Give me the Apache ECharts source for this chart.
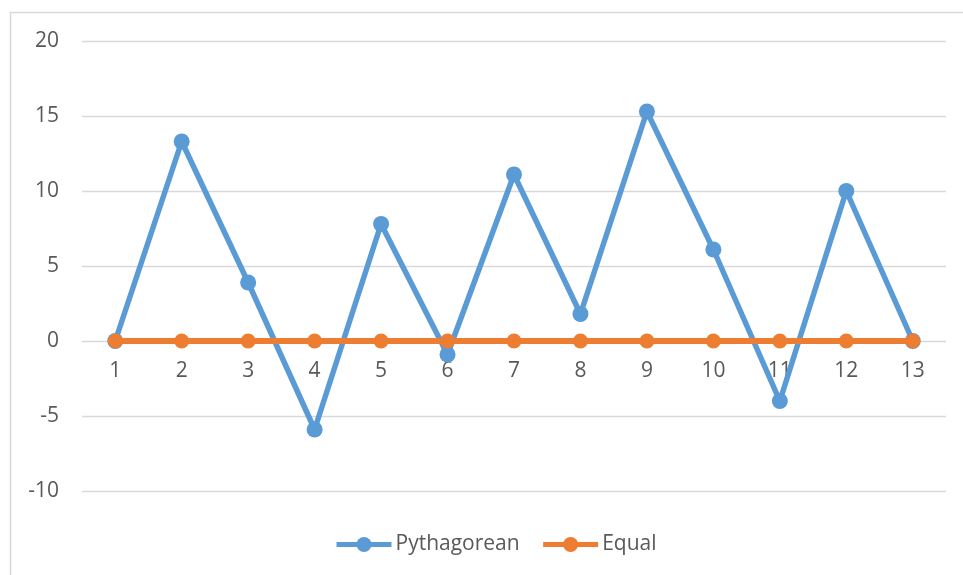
<!DOCTYPE html>
<html>
<head>
<meta charset="utf-8">
<script src="https://cdn.jsdelivr.net/npm/echarts@6/dist/echarts.min.js"></script>
<style>html,body{margin:0;padding:0;background:#fff}#c{width:963px;height:575px}</style>
</head>
<body>
<div id="c"></div>
<script>
const categories = ['1','2','3','4','5','6','7','8','9','10','11','12','13'];
const pythagorean = [0, 13.3, 3.9, -5.9, 7.8, -0.9, 11.1, 1.8, 15.3, 6.1, -4.0, 10.0, 0];
const equal = [0, 0, 0, 0, 0, 0, 0, 0, 0, 0, 0, 0, 0];
const seriesNames = ['Pythagorean', 'Equal'];

const FONT = '"Open Sans", sans-serif';
const chart = echarts.init(document.getElementById('c'), null, {renderer: 'canvas'});
chart.setOption({
  animation: false,
  backgroundColor: '#fff',
  graphic: [{
    type: 'rect', shape: {x: 10.5, y: 12.5, width: 1000, height: 1000},
    style: {fill: 'none', stroke: '#d9d9d9', lineWidth: 1.5}, silent: true
  }],
  grid: {left: 82, right: 17, top: 41, bottom: 84, containLabel: false},
  xAxis: {
    type: 'category', data: categories, boundaryGap: true,
    position: 'bottom', offset: -150,
    axisLine: {onZero: false, show: false},
    axisTick: {show: false},
    axisLabel: {color: '#595959', fontFamily: FONT, fontSize: 21, margin: 20}
  },
  yAxis: {
    type: 'value', min: -10, max: 20, interval: 5,
    axisLine: {show: false}, axisTick: {show: false},
    splitLine: {lineStyle: {color: '#d9d9d9', width: 1.3}},
    axisLabel: {color: '#595959', fontFamily: FONT, fontSize: 21, margin: 23}
  },
  legend: {
    data: seriesNames, bottom: 15, left: 329,
    itemWidth: 55, itemHeight: 19, itemGap: 21,
    lineStyle: {width: 5},
    textStyle: {color: '#595959', fontFamily: FONT, fontSize: 21, padding: [0,0,0,-1]}
  },
  series: [
    {name: seriesNames[0], type: 'line', data: pythagorean, symbol: 'circle', symbolSize: 16,
     lineStyle: {color: '#5B9BD5', width: 5.5}, itemStyle: {color: '#5B9BD5'}, z: 2},
    {name: seriesNames[1], type: 'line', data: equal, symbol: 'circle', symbolSize: 15,
     lineStyle: {color: '#ED7D31', width: 6}, itemStyle: {color: '#ED7D31'}, z: 3}
  ]
});
</script>
</body>
</html>
